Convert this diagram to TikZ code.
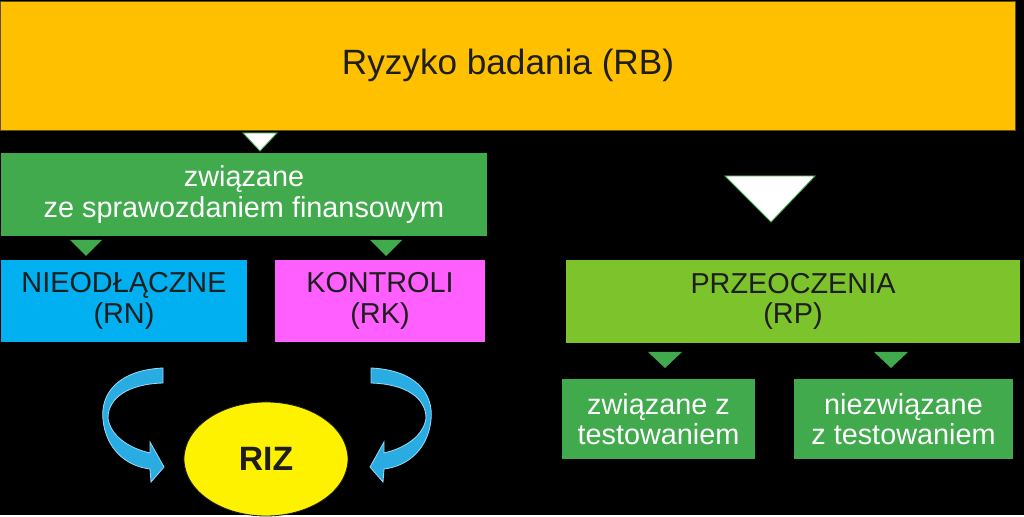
\documentclass[tikz,border=0pt]{standalone}
\usepackage{fontspec}
\setmainfont{Liberation Sans}
\usetikzlibrary{shapes.geometric, calc}
\definecolor{ambergold}{RGB}{255,192,0}
\definecolor{leafgreen}{RGB}{64,170,76}
\definecolor{limegreen}{RGB}{125,196,44}
\definecolor{skyblue}{RGB}{0,176,240}
\definecolor{pinkmag}{RGB}{255,95,255}
\definecolor{arrowcyan}{RGB}{40,172,226}
\definecolor{arrowedge}{RGB}{150,215,245}
\definecolor{inkdark}{RGB}{30,30,30}
\tikzset{
  box/.style={rectangle, inner sep=0pt, align=center, text=inkdark,
    font=\fontsize{20.5}{21.5}\selectfont},
  tri/.style={fill=leafgreen},
  bigtri/.style={fill=white, draw=leafgreen, line width=0.6pt},
  bendarrow/.style={fill=arrowcyan, draw=arrowedge, line width=0.6pt}
}

\begin{document}
\begin{tikzpicture}[x=0.025cm, y=-0.025cm]
        % Background
        \fill[black] (0,0) rectangle (1024,515);

        % Top box
        \node[box, fill=ambergold, draw=inkdark!70!ambergold, line width=0.6pt,
          minimum width=25.35cm, minimum height=3.225cm,
          font=\fontsize{25}{30}\selectfont] (rb) at (508,65.5) {Ryzyko badania (RB)};

        % Left branch
        \node[box, fill=leafgreen, text=white, minimum width=12.15cm, minimum height=2.075cm]
          (fin) at (244,194.5) {związane\\ze sprawozdaniem finansowym};
        \node[box, fill=skyblue, minimum width=6.15cm, minimum height=2.05cm]
          (rn) at (124,301) {NIEODŁĄCZNE\\(RN)};
        \node[box, fill=pinkmag, minimum width=5.25cm, minimum height=2.05cm]
          (rk) at (380,301) {KONTROLI\\(RK)};
        \node[ellipse, inner sep=0pt, fill=yellow, draw=inkdark, line width=0.6pt,
          minimum width=4.1cm, minimum height=2.85cm, text=inkdark,
          font=\bfseries\fontsize{24}{28}\selectfont] (riz) at (266,459) {RIZ};

        % Right branch
        \node[box, fill=limegreen, minimum width=11.35cm, minimum height=2.075cm]
          (rp) at (793,301.5) {PRZEOCZENIA\\(RP)};
        \node[box, fill=leafgreen, text=white, minimum width=4.825cm, minimum height=2cm]
          (zt) at (658.5,419) {związane z\\testowaniem};
        \node[box, fill=leafgreen, text=white, minimum width=5.475cm, minimum height=2cm]
          (nzt) at (903.5,419) {niezwiązane\\z testowaniem};

        % Pointers
        \filldraw[bigtri] (243,133) -- (277,133) -- (260,151) -- cycle;
        \filldraw[bigtri] (725,176) -- (815,176) -- (771,222) -- cycle;
        \fill[tri] (70,240) -- (102,240) -- (86,256) -- cycle;
        \fill[tri] (370,240) -- (402,240) -- (386,256) -- cycle;
        \fill[tri] (648,352) -- (682,352) -- (665,368) -- cycle;
        \fill[tri] (874,352) -- (908,352) -- (891,368) -- cycle;

        % Curved arrows into RIZ
        \foreach \sx/\ox in {1/0, -1/534} {
          \begin{scope}[shift={(\ox,0)}, xscale=\sx]
            \filldraw[bendarrow] (163,368) .. controls (120,370) and (100,392) .. (103,420)
              .. controls (106,448) and (125,466) .. (150,469) -- (151,482) -- (164,467)
              -- (150,442) -- (150,453) .. controls (128,448) and (110,435) .. (108,418)
              .. controls (108,398) and (128,384) .. (163,383) -- cycle;
          \end{scope}
        }
    \end{tikzpicture}
\end{document}
